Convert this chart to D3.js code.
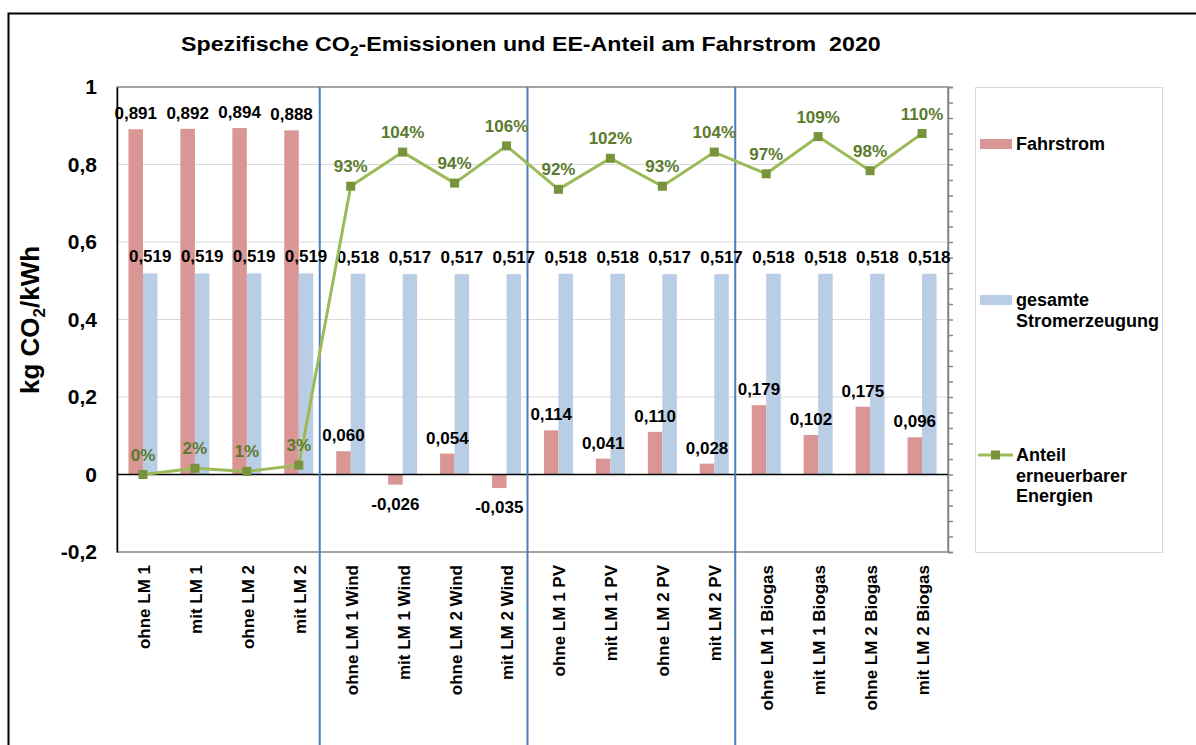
<!DOCTYPE html>
<html>
<head>
<meta charset="utf-8">
<script src="https://cdn.jsdelivr.net/npm/d3@7"></script>
<style>
  body { margin: 0; background: #fff; }
  text { font-family: "Liberation Sans", Arial, sans-serif; font-weight: bold; }
</style>
</head>
<body>
<div class="chart"></div>
<script>
const categories = [
  'ohne LM 1', 'mit LM 1', 'ohne LM 2', 'mit LM 2',
  'ohne LM 1 Wind', 'mit LM 1 Wind', 'ohne LM 2 Wind', 'mit LM 2 Wind',
  'ohne LM 1 PV', 'mit LM 1 PV', 'ohne LM 2 PV', 'mit LM 2 PV',
  'ohne LM 1 Biogas', 'mit LM 1 Biogas', 'ohne LM 2 Biogas', 'mit LM 2 Biogas'
]
const fahrstrom = [0.891, 0.892, 0.894, 0.888, 0.060, -0.026, 0.054, -0.035, 0.114, 0.041, 0.110, 0.028, 0.179, 0.102, 0.175, 0.096]
const gesamt = [0.519, 0.519, 0.519, 0.519, 0.518, 0.517, 0.517, 0.517, 0.518, 0.518, 0.517, 0.517, 0.518, 0.518, 0.518, 0.518]
const eeAnteil = [0.00, 0.02, 0.01, 0.03, 0.93, 1.04, 0.94, 1.06, 0.92, 1.02, 0.93, 1.04, 0.97, 1.09, 0.98, 1.10]
const yTicks = [-0.2, 0, 0.2, 0.4, 0.6, 0.8, 1]
const groupStarts = ['ohne LM 1 Wind', 'ohne LM 1 PV', 'ohne LM 1 Biogas']
const legendItems = [
  { name: ['Fahrstrom'], type: 'bar', color: '#d99694' },
  { name: ['gesamte', 'Stromerzeugung'], type: 'bar', color: '#b9cde5' },
  { name: ['Anteil', 'erneuerbarer', 'Energien'], type: 'line', color: '#9bbb59' }
]

const margin = { top: 87, right: 248, bottom: 193, left: 117 }
const width = 1196 - margin.left - margin.right
const height = 745 - margin.top - margin.bottom

const de = d3.formatLocale({ decimal: ',', thousands: '.', grouping: [3], currency: ['', ' €'], minus: '-' })
const fmt3 = de.format('.3f')
const fmtTick = de.format('~f')
const fmtPct = de.format('.0%')

const svg0 = d3.select('.chart').append('svg').attr('width', 1196).attr('height', 745)

// outer frame (runs off the picture right and bottom)
svg0.append('rect').attr('x', 8.5).attr('y', 13.5).attr('width', 1200).attr('height', 800)
  .style('fill', 'none').style('stroke', '#000').style('stroke-width', 2)

// title
const title = svg0.append('text').attr('x', 0).attr('y', 0).style('font-size', '21px')
title.append('tspan').text('Spezifische CO')
title.append('tspan').attr('dy', 5).style('font-size', '14px').text('2')
title.append('tspan').attr('dy', -5).text('-Emissionen und EE-Anteil am Fahrstrom\u00a0\u00a02020')
const tw = title.node().getBBox().width
title.attr('transform', `translate(181, 51) scale(${700 / tw}, 1)`)

const svg = svg0.append('g').attr('transform', `translate(${margin.left}, ${margin.top})`)

const x = d3.scaleBand().domain(categories).range([0, width])
const y = d3.scaleLinear().domain([-0.2, 1]).range([height, 0])
const y2 = d3.scaleLinear().domain([-0.25, 1.25]).range([height, 0])
const barW = 14.5

// gridlines
svg.selectAll('.grid').data(yTicks.filter(d => d > 0 && d < 1)).join('line')
  .attr('x1', 0).attr('x2', width).attr('y1', d => y(d)).attr('y2', d => y(d))
  .style('stroke', '#d9d9d9').style('stroke-width', 1)

// plot frame
svg.append('rect').attr('width', width).attr('height', height)
  .style('fill', 'none').style('stroke', '#868686').style('stroke-width', 1.5)

// bars
svg.selectAll('.bar-f').data(fahrstrom).join('rect')
  .attr('x', (d, i) => x(categories[i]) + x.bandwidth() / 2 - barW)
  .attr('width', barW)
  .attr('y', d => y(Math.max(0, d)))
  .attr('height', d => Math.abs(y(d) - y(0)))
  .style('fill', '#d99694')
svg.selectAll('.bar-g').data(gesamt).join('rect')
  .attr('x', (d, i) => x(categories[i]) + x.bandwidth() / 2)
  .attr('width', barW)
  .attr('y', d => y(d))
  .attr('height', d => y(0) - y(d))
  .style('fill', '#b9cde5')

// zero line
svg.append('line').attr('x1', 0).attr('x2', width).attr('y1', y(0)).attr('y2', y(0))
  .style('stroke', '#000').style('stroke-width', 1.5)

// left axis
const yAxis = d3.axisLeft(y).tickValues(yTicks).tickSize(0).tickPadding(20).tickFormat(fmtTick)
const ya = svg.append('g').call(yAxis)
ya.select('.domain').style('stroke', '#000').style('stroke-width', 1.5)
ya.selectAll('text').style('font-size', '21px').style('font-family', '"Liberation Sans", Arial, sans-serif').style('fill', '#000')

// right axis (secondary, ticks only)
const y2Axis = d3.axisRight(y2).tickValues(d3.range(0, 31).map(i => -0.25 + i * 0.05)).tickSize(5).tickFormat('')
const y2a = svg.append('g').attr('transform', `translate(${width}, 0)`).call(y2Axis)
y2a.selectAll('path, line').style('stroke', '#868686').style('stroke-width', 1.5)

// x axis labels
const xAxis = d3.axisBottom(x).tickSize(0)
const xa = svg.append('g').attr('transform', `translate(0, ${height})`).call(xAxis)
xa.select('.domain').remove()
xa.selectAll('text')
  .attr('transform', 'rotate(-90)')
  .attr('x', -13).attr('y', 1).attr('dy', '0.35em')
  .style('text-anchor', 'end').style('font-size', '17px')
  .style('font-family', '"Liberation Sans", Arial, sans-serif').style('fill', '#000')

// group separators
svg.selectAll('.sep').data(groupStarts).join('line')
  .attr('x1', d => x(d) - 5).attr('x2', d => x(d) - 5)
  .attr('y1', 0).attr('y2', 745)
  .style('stroke', '#4a7ebb').style('stroke-width', 2)

// bar labels
svg.selectAll('.lab-f').data(fahrstrom).join('text')
  .attr('x', (d, i) => x(categories[i]) + x.bandwidth() / 2 - barW / 2)
  .attr('y', d => d >= 0 ? y(d) - 10 : y(d) + 25)
  .attr('text-anchor', 'middle').style('font-size', '17px')
  .text(d => fmt3(d))
svg.selectAll('.lab-g').data(gesamt).join('text')
  .attr('x', (d, i) => x(categories[i]) + x.bandwidth() / 2 + barW / 2)
  .attr('y', d => y(d) - 11)
  .attr('text-anchor', 'middle').style('font-size', '17px')
  .text(d => fmt3(d))

// line for renewable share
const line = d3.line().x((d, i) => x(categories[i]) + x.bandwidth() / 2).y(d => y2(d))
svg.append('path').datum(eeAnteil).attr('d', line)
  .style('fill', 'none').style('stroke', '#9bbb59').style('stroke-width', 3)
svg.selectAll('.mk').data(eeAnteil).join('rect')
  .attr('x', (d, i) => x(categories[i]) + x.bandwidth() / 2 - 4.5)
  .attr('y', d => y2(d) - 4.5)
  .attr('width', 9).attr('height', 9)
  .style('fill', '#77933c')
svg.selectAll('.lab-p').data(eeAnteil).join('text')
  .attr('x', (d, i) => x(categories[i]) + x.bandwidth() / 2)
  .attr('y', d => y2(d) - 14)
  .attr('text-anchor', 'middle').style('font-size', '17px').style('fill', '#5b7a2d')
  .text(d => fmtPct(d))

// legend
const lg = svg0.append('g').attr('transform', 'translate(975, 87)')
lg.append('rect').attr('x', 0.5).attr('y', 0.5).attr('width', 187).attr('height', 465)
  .style('fill', '#fff').style('stroke', '#d9d9d9').style('stroke-width', 1)
const itemY = [57, 213, 368]
legendItems.forEach((it, i) => {
  const g = lg.append('g').attr('transform', `translate(0, ${itemY[i]})`)
  if (it.type === 'bar') {
    g.append('rect').attr('x', 5).attr('y', -5).attr('width', 32).attr('height', 10).style('fill', it.color)
  } else {
    g.append('line').attr('x1', 3).attr('x2', 38).attr('y1', 0).attr('y2', 0)
      .style('stroke', it.color).style('stroke-width', 3)
    g.append('rect').attr('x', 16).attr('y', -4.5).attr('width', 9).attr('height', 9).style('fill', '#77933c')
  }
  it.name.forEach((t, j) => {
    g.append('text').attr('x', 41).attr('y', 6 + j * 20.5).style('font-size', '18px').text(t)
  })
})

// y axis title
const yt = svg0.append('text').attr('transform', 'translate(39, 320) rotate(-90)')
  .attr('text-anchor', 'middle').style('font-size', '26px')
yt.append('tspan').text('kg CO')
yt.append('tspan').attr('dy', 6).style('font-size', '17px').text('2')
yt.append('tspan').attr('dy', -6).text('/kWh')
</script>
</body>
</html>
